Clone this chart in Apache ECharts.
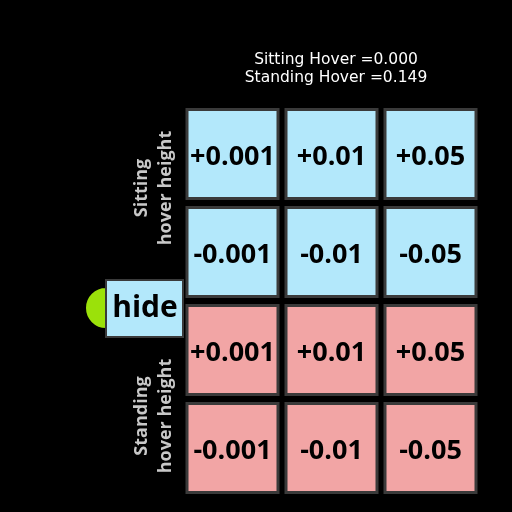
<!DOCTYPE html>
<html>
<head>
<meta charset="utf-8">
<script src="https://cdn.jsdelivr.net/npm/echarts@6/dist/echarts.min.js"></script>
<style>html,body{margin:0;background:#000;}#chart{width:512px;height:512px;}</style>
</head>
<body>
<div id="chart"></div>
<script>
const columns = ["c1", "c2", "c3"];
const rows = ["Standing -", "Standing +", "Sitting -", "Sitting +"];
const cellLabels = [
  ["+0.001", "+0.01", "+0.05"],
  ["-0.001", "-0.01", "-0.05"],
  ["+0.001", "+0.01", "+0.05"],
  ["-0.001", "-0.01", "-0.05"]
];
const sittingHover = 0.000;
const standingHover = 0.149;

const chart = echarts.init(document.getElementById("chart"));
const cells = [];
const texts = [];
cellLabels.forEach((r, ri) => r.forEach((t, ci) => { cells.push([ci, 3 - ri, ri < 2 ? 0 : 1]); texts.push(t); }));

chart.setOption({
  backgroundColor: "#000",
  title: {
    text: "Sitting Hover =" + sittingHover.toFixed(3) + "\nStanding Hover =" + standingHover.toFixed(3),
    left: 331, top: 46, textAlign: "center",
    textStyle: { color: "#fff", fontSize: 15.5, fontWeight: "normal", fontFamily: "DejaVu Sans", lineHeight: 18 }
  },
  grid: { left: 183, right: 32, top: 105, bottom: 15 },
  xAxis: { type: "category", data: columns, show: false },
  yAxis: { type: "category", data: rows, show: false },
  series: [{
    type: "custom",
    data: cells,
    renderItem: function (params, api) {
      const c = api.coord([api.value(0), api.value(1)]);
      const s = api.size([1, 1]);
      const w = s[0] - 8, h = s[1] - 9;
      return {
        type: "group",
        children: [{
          type: "rect",
          shape: { x: c[0] - w / 2, y: c[1] - h / 2, width: w, height: h },
          style: { fill: api.value(2) === 0 ? "#b3e8fb" : "#f2a5a5", stroke: "#3a3a3a", lineWidth: 3 }
        }, {
          type: "text",
          style: {
            x: c[0], y: c[1] + 3, text: texts[params.dataIndex], align: "center", verticalAlign: "middle",
            fill: "#000", font: "bold 27px 'Open Sans'"
          }
        }]
      };
    }
  }],
  graphic: [
    { type: "sector", shape: { cx: 106, cy: 308, r: 21, startAngle: Math.PI / 2, endAngle: Math.PI * 1.5 },
      style: { fill: "#9be10a", stroke: "#000", lineWidth: 2 } },
    { type: "rect", shape: { x: 106, y: 280, width: 77, height: 57 },
      style: { fill: "#b3e8fb", stroke: "#3a3a3a", lineWidth: 2 } },
    { type: "text", style: { x: 145, y: 308, text: "hide", align: "center", verticalAlign: "middle",
      fill: "#000", font: "bold 30px 'Open Sans'" } },
    { type: "text", rotation: Math.PI / 2, x: 154, y: 188,
      style: { text: "Sitting\nhover height", align: "center", verticalAlign: "middle", lineHeight: 24,
        fill: "#c8c8c8", stroke: "#000", lineWidth: 1, font: "bold 18px 'Open Sans'" } },
    { type: "text", rotation: Math.PI / 2, x: 154, y: 416,
      style: { text: "Standing\nhover height", align: "center", verticalAlign: "middle", lineHeight: 24,
        fill: "#c8c8c8", stroke: "#000", lineWidth: 1, font: "bold 18px 'Open Sans'" } }
  ]
});
</script>
</body>
</html>
